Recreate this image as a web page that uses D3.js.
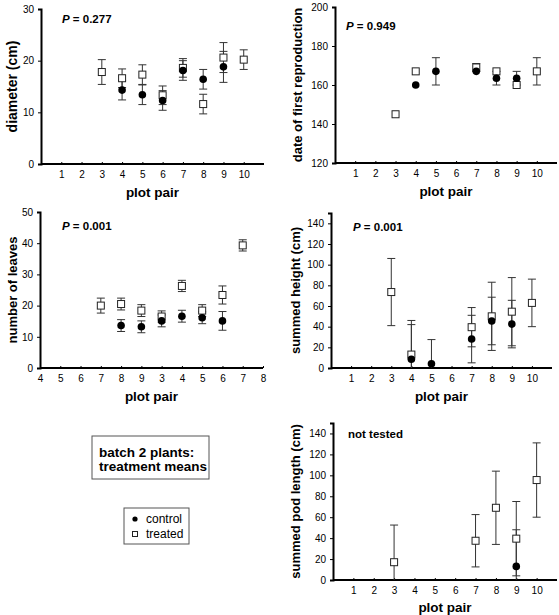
<!DOCTYPE html>
<html><head><meta charset="utf-8">
<script src="https://cdn.jsdelivr.net/npm/d3@7"></script>
<style>body{margin:0;background:#fff}svg{display:block;font-family:"Liberation Sans",Arial,sans-serif}</style>
</head><body><svg id="c" width="559" height="615"></svg>
<script>
// ---------- data ----------
const xTickLabelsPair = ["1","2","3","4","5","6","7","8","9","10"];
const xTickLabelsLeaves = ["4","5","6","7","8","9","3","4","5","6","7","8"];

const diamTreatedX = [3,4,5,6,7,8,9,10];
const diamTreated = [17.8,16.6,17.3,13.3,18.6,11.6,20.6,20.2];
const diamTreatedErr = [2.4,1.8,1.9,1.8,1.8,1.9,2.9,1.9];
const diamControlX = [4,5,6,7,8,9];
const diamControl = [14.3,13.4,12.3,18.1,16.4,18.8];
const diamControlErr = [1.9,1.9,1.9,1.9,1.9,3.0];

const dateTreatedX = [3,4,7,8,9,10];
const dateTreated = [145,167,169,167,160,167];
const dateTreatedErr = [0,0,2,0,0,7];
const dateControlX = [4,5,7,8,9];
const dateControl = [160,167,167,163.5,163.5];
const dateControlErr = [0,7,0,3.5,3.5];

const leavesTreatedX = [3,4,5,6,7,8,9,10];
const leavesTreated = [20.0,20.5,18.4,16.5,26.3,18.4,23.4,39.3];
const leavesTreatedErr = [2.4,1.9,1.9,1.8,1.8,1.9,2.9,1.8];
const leavesControlX = [4,5,6,7,8,9];
const leavesControl = [13.6,13.2,15.1,16.6,16.1,15.1];
const leavesControlErr = [1.9,1.9,1.9,1.9,1.9,3.0];

const heightTreatedX = [3,4,7,8,9,10];
const heightTreated = [73.5,13,39.5,50,54.5,63];
const heightTreatedErr = [32.5,33,19,33,33,23];
const heightControlX = [4,5,7,8,9];
const heightControl = [8.5,4,28,45.5,42.5];
const heightControlErr = [33.5,23.5,23,23,23];

const podTreatedX = [3,7,8,9,10];
const podTreated = [17,37.5,69,39.5,95.5];
const podTreatedErr = [35.5,25,35,35.5,35.5];
const podControlX = [9];
const podControl = [13];
const podControlErr = [35];

const zip = (xs, vs, es) => xs.map((x,i)=>({x, v:vs[i], e:es[i]}));

// ---------- layout ----------
const panels = [
  {x0:41, x1:264, yTop:9, yBot:164, dom:[0,30], ticks:[0,10,20,30], ylab:"diameter (cm)", ylabX:12, ylabSize:14,
   note:"P", noteVal:"0.277", noteX:62, noteY:23,
   xLabels:xTickLabelsPair, xStart:1, xlabY:197,
   t:zip(diamTreatedX,diamTreated,diamTreatedErr), c:zip(diamControlX,diamControl,diamControlErr)},
  {x0:335, x1:557, yTop:7, yBot:163, dom:[120,200], ticks:[120,140,160,180,200], ylab:"date of first reproduction", ylabX:297, ylabSize:13,
   note:"P", noteVal:"0.949", noteX:346, noteY:30,
   xLabels:xTickLabelsPair, xStart:1, xlabY:196,
   t:zip(dateTreatedX,dateTreated,dateTreatedErr), c:zip(dateControlX,dateControl,dateControlErr)},
  {x0:40, x1:263, yTop:212, yBot:368, dom:[0,50], ticks:[0,10,20,30,40,50], ylab:"number of leaves", ylabX:12, ylabSize:13,
   note:"P", noteVal:"0.001", noteX:62, noteY:230,
   xLabels:xTickLabelsLeaves, xStart:0, xlabY:401,
   t:zip(leavesTreatedX,leavesTreated,leavesTreatedErr), c:zip(leavesControlX,leavesControl,leavesControlErr)},
  {x0:331, x1:552, yTop:213, yBot:368, dom:[0,150], ticks:[0,20,40,60,80,100,120,140], ylab:"summed height (cm)", ylabX:295, ylabSize:13,
   note:"P", noteVal:"0.001", noteX:353, noteY:231,
   xLabels:xTickLabelsPair, xStart:1, xlabY:401,
   t:zip(heightTreatedX,heightTreated,heightTreatedErr), c:zip(heightControlX,heightControl,heightControlErr)},
  {x0:333, x1:557, yTop:423, yBot:580, dom:[0,150], ticks:[0,20,40,60,80,100,120,140], ylab:"summed pod length (cm)", ylabX:295, ylabSize:13,
   note:"not tested", noteX:348, noteY:438,
   xLabels:xTickLabelsPair, xStart:1, xlabY:612,
   t:zip(podTreatedX,podTreated,podTreatedErr), c:zip(podControlX,podControl,podControlErr)}
];

const svg = d3.select("#c");
const errColor = "#333";

panels.forEach(p => {
  const g = svg.append("g");
  const x = d3.scaleLinear().domain([0,11]).range([p.x0,p.x1]);
  const y = d3.scaleLinear().domain(p.dom).range([p.yBot,p.yTop]).clamp(true);

  // y axis
  const ya = g.append("g").attr("transform",`translate(${p.x0},0)`)
    .call(d3.axisLeft(y).tickValues(p.ticks).tickSize(3).tickPadding(4).tickFormat(d3.format("d")));
  ya.select(".domain").attr("stroke","#000").attr("stroke-width",2);
  ya.selectAll(".tick line").attr("stroke","#000");
  ya.selectAll("text").attr("font-size",10).attr("fill","#000").attr("font-family","Liberation Sans, Arial, sans-serif");

  // x axis
  const xt = p.xLabels.map((l,i)=>i+p.xStart);
  const xa = g.append("g").attr("transform",`translate(0,${p.yBot})`)
    .call(d3.axisBottom(x).tickValues(xt).tickSize(-2).tickPadding(7).tickFormat((d,i)=>p.xLabels[i]));
  xa.select(".domain").attr("stroke","#000").attr("stroke-width",2).attr("d",`M${p.x0},0H${p.x1}`);
  xa.selectAll(".tick line").attr("stroke","#000");
  xa.selectAll("text").attr("font-size",10).attr("fill","#000").attr("font-family","Liberation Sans, Arial, sans-serif");

  // axis titles
  g.append("text").attr("x",(p.x0+p.x1)/2).attr("y",p.xlabY).attr("text-anchor","middle")
    .attr("font-size",13.5).attr("font-weight","bold").text("plot pair");
  g.append("text").attr("transform",`translate(${p.ylabX},${(p.yTop+p.yBot)/2}) rotate(-90)`)
    .attr("text-anchor","middle").attr("dy","0.35em")
    .attr("font-size",p.ylabSize).attr("font-weight","bold").text(p.ylab);

  // note
  const nt = g.append("text").attr("x",p.noteX).attr("y",p.noteY).attr("font-size",11.5).attr("font-weight","bold");
  if (p.noteVal) {
    nt.append("tspan").attr("font-style","italic").text("P");
    nt.append("tspan").text(" = " + p.noteVal);
  } else nt.text(p.note);

  // error bars
  const drawErr = (data) => {
    data.filter(d=>d.e>0).forEach(d=>{
      const lo = d.v - d.e, hi = d.v + d.e;
      const cx = x(d.x);
      g.append("line").attr("x1",cx).attr("x2",cx).attr("y1",y(lo)).attr("y2",y(hi))
        .attr("stroke",errColor).attr("stroke-width",1);
      [lo,hi].forEach(v=>{
        if (v >= p.dom[0] && v <= p.dom[1])
          g.append("line").attr("x1",cx-4).attr("x2",cx+4).attr("y1",y(v)).attr("y2",y(v))
            .attr("stroke",errColor).attr("stroke-width",1);
      });
    });
  };
  drawErr(p.t); drawErr(p.c);

  g.selectAll("rect.t").data(p.t).enter().append("rect")
    .attr("x",d=>x(d.x)-3.5).attr("y",d=>y(d.v)-3.5).attr("width",7).attr("height",7)
    .attr("fill","#fff").attr("stroke","#222").attr("stroke-width",1);
  g.selectAll("circle.c").data(p.c).enter().append("circle")
    .attr("cx",d=>x(d.x)).attr("cy",d=>y(d.v)).attr("r",3.8).attr("fill","#000");
});

// title box
const tb = svg.append("g");
tb.append("rect").attr("x",92).attr("y",436).attr("width",117).attr("height",43)
  .attr("fill","#fff").attr("stroke","#555").attr("stroke-width",1);
tb.append("text").attr("x",99).attr("y",457).attr("font-size",13.5).attr("font-weight","bold").text("batch 2 plants:");
tb.append("text").attr("x",99).attr("y",471).attr("font-size",13.5).attr("font-weight","bold").text("treatment means");

// legend
const lg = svg.append("g");
lg.append("rect").attr("x",124).attr("y",508).attr("width",65).attr("height",36)
  .attr("fill","#fff").attr("stroke","#555").attr("stroke-width",1);
lg.append("circle").attr("cx",135).attr("cy",519).attr("r",2.6).attr("fill","#000");
lg.append("rect").attr("x",132.5).attr("y",531.5).attr("width",5).attr("height",5).attr("fill","#fff").attr("stroke","#222");
lg.append("text").attr("x",146).attr("y",523).attr("font-size",12).text("control");
lg.append("text").attr("x",146).attr("y",538).attr("font-size",12).text("treated");
</script></body></html>
